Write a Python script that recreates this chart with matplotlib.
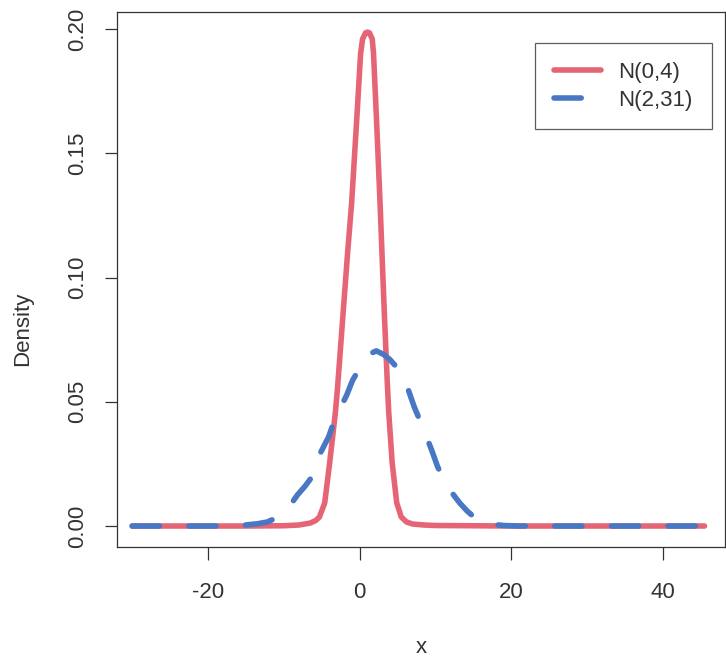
import matplotlib
matplotlib.use("Agg")
from matplotlib import pyplot as plt

plt.rcParams['font.family'] = ['Liberation Sans', 'DejaVu Sans']
plt.rcParams['axes.unicode_minus'] = False

# curves (x, density)
red_x = [-30, -15, -10, -8, -6.5, -5.8, -5.3, -4.6, -3.95, -3.2, -2.9, -2.24, -1.58, -1.05, -0.39,
         0.13, 0.39, 0.79, 1.05, 1.3, 1.67, 1.84, 2.24, 2.7, 2.95, 3.3, 3.68, 3.85, 4.3, 4.9,
         5.5, 6.2, 7.0, 8.5, 10, 20, 45.5]
red_y = [0.0, 0.0, 0.0001, 0.0004, 0.0012, 0.0022, 0.0036, 0.0093, 0.0254, 0.0455, 0.056, 0.083,
         0.110, 0.130, 0.163, 0.190, 0.196, 0.1985, 0.1988, 0.1985, 0.196, 0.190, 0.163, 0.130,
         0.110, 0.083, 0.056, 0.0455, 0.0254, 0.0093, 0.0036, 0.0016, 0.0008, 0.0004, 0.0002, 0.0, 0.0]

blue_x = [-30, -18, -15.1, -13.5, -12.2, -10.8, -9.6, -8.2, -7.2, -6.3, -5.5, -4.1, -3.2, -1.7,
          -0.9, 0.66, 1.5, 2.2, 3.2, 4.0, 4.87, 6.2, 7.2, 8.3, 9.5, 10.3, 11.6, 13.2, 14.2,
          15.1, 16.0, 17.1, 19, 21, 30, 45.5]
blue_y = [0.0, 0.0, 0.0004, 0.0009, 0.0016, 0.0035, 0.0064, 0.0125, 0.016, 0.0197, 0.0274,
          0.0358, 0.0435, 0.0527, 0.0588, 0.0668, 0.0695, 0.0705, 0.069, 0.067, 0.064, 0.0568,
          0.048, 0.040, 0.0306, 0.0238, 0.0157, 0.0093, 0.006, 0.0036, 0.0018, 0.0008, 0.0002,
          0.0, 0.0, 0.0]

labels = ['N(0,4)', 'N(2,31)']
x_ticks = [-20, 0, 20, 40]
y_ticks = [0.00, 0.05, 0.10, 0.15, 0.20]

red = '#E56577'
blue = '#4878C4'
ink = '#333333'

fig = plt.figure(figsize=(7.26, 6.58), dpi=100)
ax = fig.add_axes([117 / 726, 1 - 547 / 658, 608 / 726, 535 / 658])

ax.plot(red_x, red_y, color=red, linewidth=4, solid_capstyle='round',
        solid_joinstyle='round', label=labels[0])
ax.plot(blue_x, blue_y, color=blue, linewidth=4, dashes=(4.9, 5.3),
        dash_capstyle='round', dash_joinstyle='round', label=labels[1])

ax.set_xlim(-32.0, 48.2)
ax.set_ylim(-0.00845, 0.2069)
ax.set_xticks(x_ticks)
ax.set_yticks(y_ticks)
ax.set_yticklabels([f'{v:.2f}' for v in y_ticks], rotation=90, va='center')

for s in ax.spines.values():
    s.set_color(ink)
    s.set_linewidth(0.9)
ax.tick_params(axis='both', length=9, width=0.9, color=ink, labelcolor=ink, labelsize=16)
ax.tick_params(axis='x', pad=16)
ax.tick_params(axis='y', pad=12)

ax.text(0.5, -0.1985, 'x', transform=ax.transAxes, ha='center', va='baseline',
        fontsize=16, color=ink)
ax.text(23 / 726, 0.5, 'Density', transform=fig.transFigure, rotation=90,
        ha='center', va='center', fontsize=16, color=ink)

leg = ax.legend(loc='upper left', bbox_to_anchor=(535 / 726, 1 - 43 / 658),
                bbox_transform=fig.transFigure, fancybox=False, fontsize=16,
                handlelength=2.1, handletextpad=0.8, labelspacing=0.3,
                borderpad=0.85, borderaxespad=0)
leg.get_frame().set_edgecolor(ink)
leg.get_frame().set_linewidth(0.9)
for t in leg.get_texts():
    t.set_color(ink)

fig.savefig('out.png', dpi=100)
